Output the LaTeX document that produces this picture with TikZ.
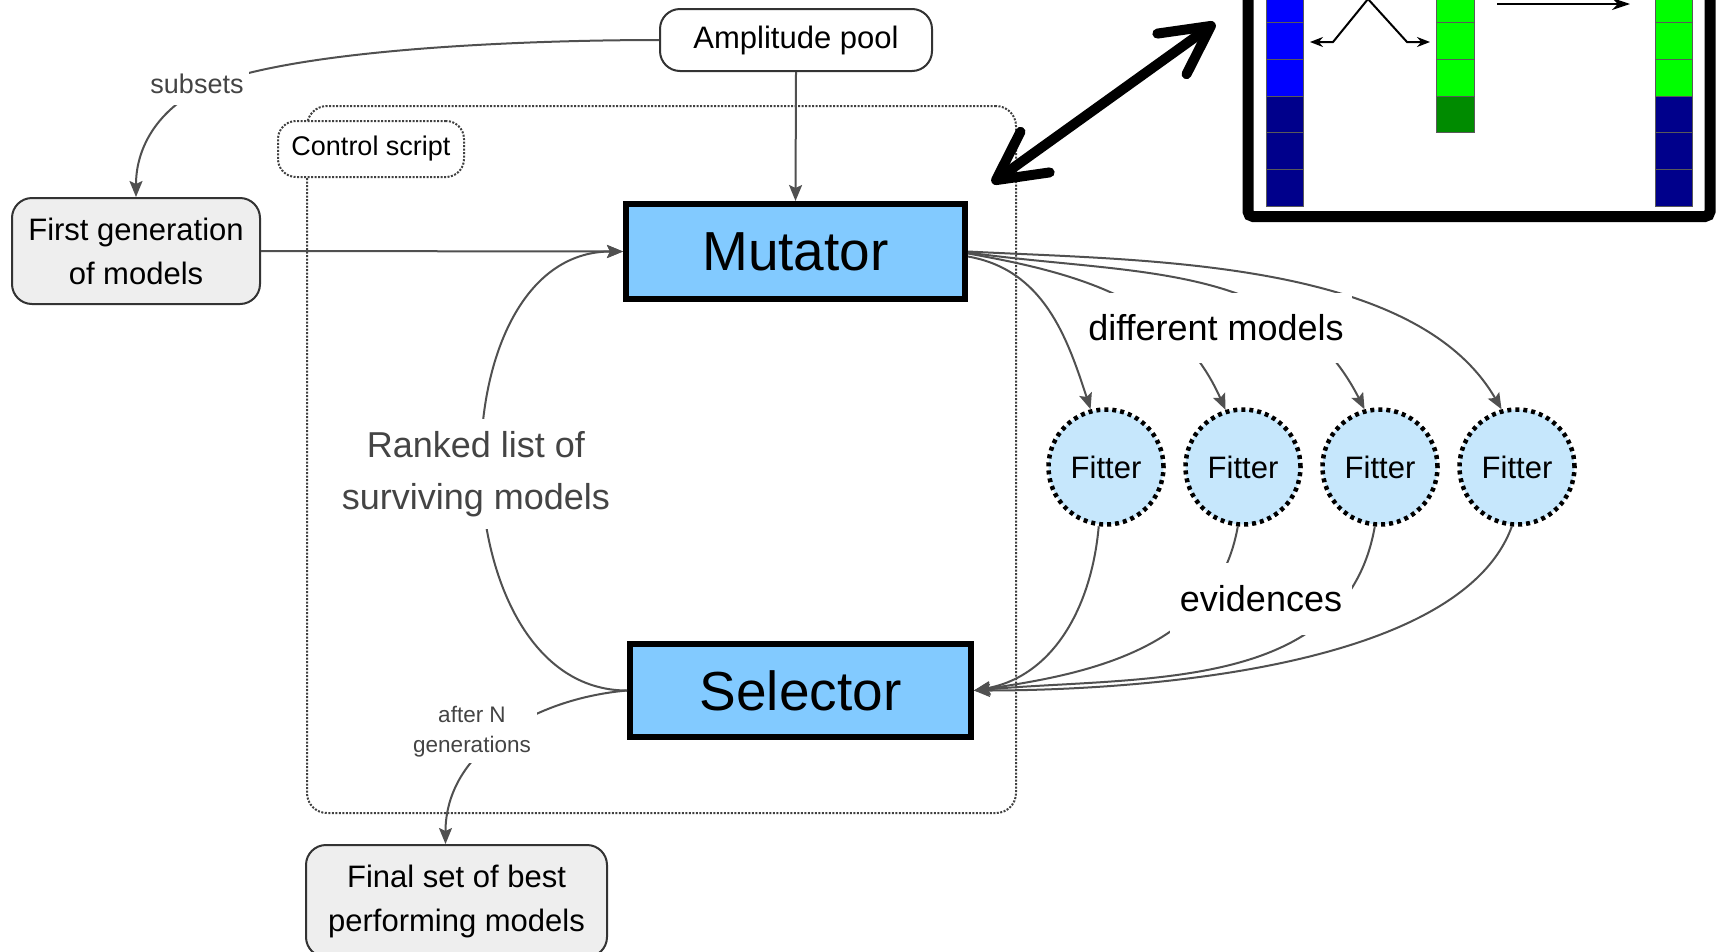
\documentclass[tikz,border=0pt]{standalone}
\usepackage{fontspec}
\setmainfont{Liberation Sans}
\usetikzlibrary{arrows.meta,calc}
\definecolor{boxblue}{RGB}{130,202,255}
\definecolor{fitblue}{RGB}{198,231,252}
\definecolor{boxgray}{RGB}{238,238,238}
\definecolor{linegray}{RGB}{80,80,80}
\definecolor{txtgray}{RGB}{68,68,68}
\definecolor{cblue}{RGB}{0,0,255}
\definecolor{cnavy}{RGB}{0,0,139}
\definecolor{cgreen}{RGB}{0,255,0}
\definecolor{cdgreen}{RGB}{0,139,0}
\begin{document}
\begin{tikzpicture}[x=1pt,y=-1pt,
  bigbox/.style={draw=black, line width=6pt, fill=boxblue, inner sep=0pt, font=\fontsize{55}{60}\selectfont},
  roundbox/.style={draw=black!80, line width=2pt, rounded corners=20pt, align=center, inner sep=0pt, font=\fontsize{31}{44}\selectfont},
  fitter/.style={circle, draw=black, line width=4.5pt, dash pattern=on 4pt off 4pt, fill=fitblue, minimum size=115pt, inner sep=0pt, font=\fontsize{31}{36}\selectfont},
  conn/.style={draw=linegray, line width=2pt, -{Stealth[length=16pt,width=13pt,inset=3pt]}},
  lbl/.style={fill=white, align=center},
  dotbox/.style={draw=black!75, line width=2pt, dash pattern=on 2pt off 1.5pt},
  cellline/.style={draw=black!65, line width=0.8pt},
  thinarrow/.style={draw=black, line width=2pt},
]
\useasboundingbox (0,0) rectangle (1716,951);
\fill[white] (0,0) rectangle (1716,951);
\begin{scope}
\clip (0,0) rectangle (1716,951);

% control script container
\node[dotbox, rounded corners=20pt, minimum width=709pt, minimum height=707pt, inner sep=0pt] (ctl) at (661.5,459.5) {};
\node[dotbox, rounded corners=18pt, fill=white, minimum width=186pt, minimum height=56pt, inner sep=0pt, font=\fontsize{27}{30}\selectfont] (cs) at (371,149) {Control script};

% inset
\foreach \k in {0,1,2} {
  \filldraw[fill=cnavy, cellline] (1266,{206-36.67*\k}) rectangle (1303,{206-36.67*(\k+1)});
  \filldraw[fill=cnavy, cellline] (1655,{206-36.67*\k}) rectangle (1692,{206-36.67*(\k+1)});
}
\foreach \k in {3,4,5,6,7} {
  \filldraw[fill=cblue, cellline] (1266,{206-36.67*\k}) rectangle (1303,{206-36.67*(\k+1)});
  \filldraw[fill=cgreen, cellline] (1655,{206-36.67*\k}) rectangle (1692,{206-36.67*(\k+1)});
}
\filldraw[fill=cdgreen, cellline] (1436,132.7) rectangle (1474,96);
\foreach \k in {3,4,5,6,7} {
  \filldraw[fill=cgreen, cellline] (1436,{206-36.67*\k}) rectangle (1474,{206-36.67*(\k+1)});
}
\draw[line width=11pt, rounded corners=5pt] (1248,-40) -- (1248,216.5) -- (1710,216.5) -- (1710,-40);
\coordinate (ia1) at (1310,42);
\coordinate (ia2) at (1430,42);
\coordinate (ib1) at (1497,4);
\coordinate (ib2) at (1630,4);
\draw[thinarrow, {Stealth[length=13pt,width=10pt]}-{Stealth[length=13pt,width=10pt]}] (ia1) -- (1333,42) -- (1368,-1) -- (1407,42) -- (ia2);
\draw[thinarrow, -{Stealth[length=18pt,width=12pt]}] (ib1) -- (ib2);

% big double arrow
\coordinate (dA) at (992,183);
\coordinate (dB) at (1215,23);
\draw[line width=10pt, {Straight Barb[length=48pt,width=50pt,round]}-{Straight Barb[length=48pt,width=50pt,round]}] (dA) -- (dB);

% main nodes
\node[roundbox, fill=white, minimum width=272pt, minimum height=62pt] (amp) at (796,40) {Amplitude pool};
\node[roundbox, fill=boxgray, minimum width=248pt, minimum height=106pt] (fg) at (136,251) {First generation\\of models};
\node[bigbox, minimum width=339pt, minimum height=95pt] (mut) at (795.5,251.5) {Mutator};
\node[bigbox, minimum width=341pt, minimum height=93pt] (sel) at (800.5,690.5) {Selector};
\node[roundbox, fill=boxgray, minimum width=301pt, minimum height=112pt] (fin) at (456.5,901) {Final set of best\\performing models};
\node[fitter] (f1) at (1106,467) {Fitter};
\node[fitter] (f2) at (1243,467) {Fitter};
\node[fitter] (f3) at (1380,467) {Fitter};
\node[fitter] (f4) at (1517,467) {Fitter};

% connectors
\coordinate (sp) at (207,86);
\draw[conn] (amp.west) to[out=180,in=22,looseness=0.6] (sp) to[out=204,in=90] (fg.north);
\draw[conn] (amp.south) -- (mut.north);
\draw[conn] (fg.east) -- (mut.west);
\draw[conn] (sel.west) to[out=180,in=180,distance=190pt] (mut.west);
\coordinate (finin) at ($(fin.north)+(-11,0)$);
\draw[conn] (sel.west) to[out=185,in=90] (finin);

\draw[conn] ($(mut.east)+(0,5)$) to[out=-10,in=108] (f1.105);
\draw[conn] ($(mut.east)+(0,2)$) to[out=-10,in=114] (f2.107);
\draw[conn] ($(mut.east)+(0,1)$) to[out=-8,in=117] (f3.105);
\draw[conn] (mut.east) to[out=-3,in=120,looseness=0.8] (f4.105);

\draw[conn] (f1.263) to[out=-95,in=10] (sel.east);
\draw[conn] (f2.265) to[out=-100,in=8] (sel.east);
\draw[conn] (f3.265) to[out=-100,in=5] (sel.east);
\draw[conn] (f4.265) to[out=-110,in=0,looseness=0.7] (sel.east);

% labels
\node[lbl, inner xsep=5pt, inner ysep=11pt, text=txtgray, font=\fontsize{27}{30}\selectfont] (subl) at (197,84) {subsets};
\node[lbl, inner xsep=4pt, inner ysep=12pt, text=txtgray, font=\fontsize{36}{52}\selectfont] (rl) at (476,474) {Ranked list of\\surviving models};
\node[lbl, inner sep=6pt, text=txtgray, font=\fontsize{22.5}{30}\selectfont] (an) at (472,732) {after N\\generations};
\node[lbl, inner xsep=8pt, inner ysep=22pt, font=\fontsize{36}{40}\selectfont] (dm) at (1216,328) {different models};
\node[lbl, inner xsep=10pt, inner ysep=23pt, font=\fontsize{36}{40}\selectfont] (ev) at (1261,599) {evidences};
\end{scope}
\end{tikzpicture}
\end{document}
